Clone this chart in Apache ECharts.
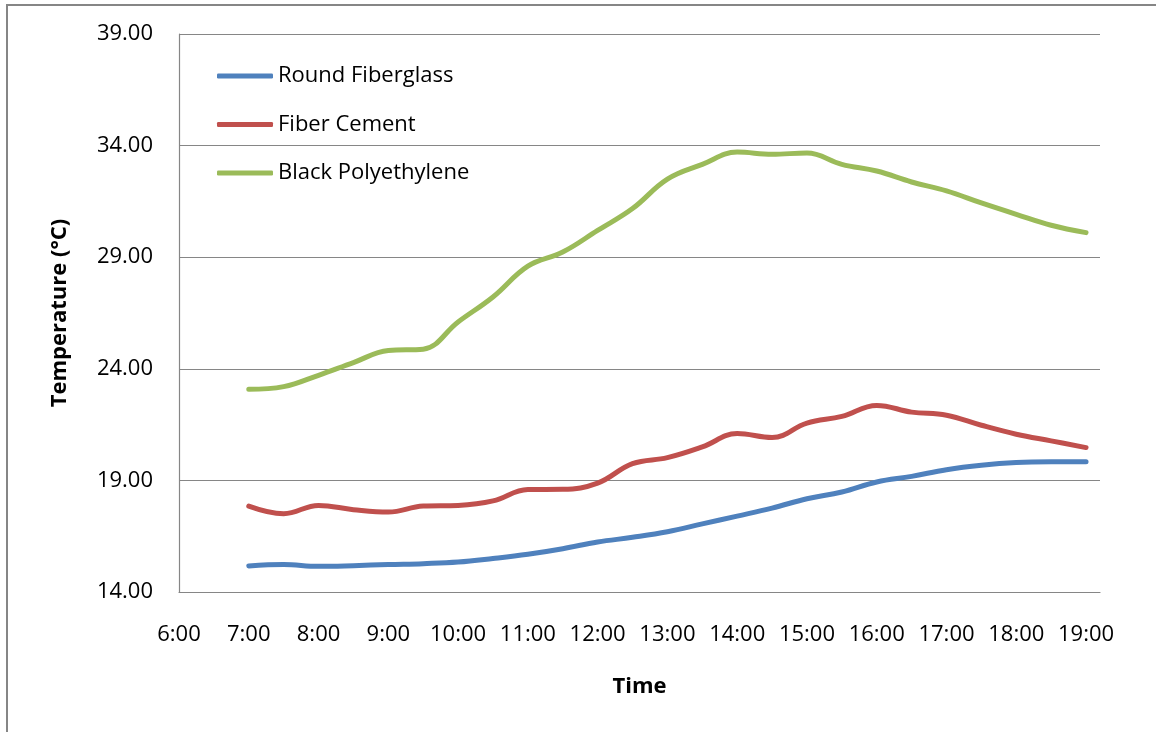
<!DOCTYPE html>
<html>
<head>
<meta charset="utf-8">
<script src="https://cdn.jsdelivr.net/npm/echarts@6/dist/echarts.min.js"></script>
<style>
  html, body { margin: 0; padding: 0; background: #fff; }
  #chart { width: 1156px; height: 732px; }
</style>
</head>
<body>
<div id="chart"></div>
<script>
const times = ['7:00','7:30','8:00','8:30','9:00','9:30','10:00','10:30','11:00','11:30','12:00','12:30',
  '13:00','13:30','14:00','14:30','15:00','15:30','16:00','16:30','17:00','17:30','18:00','18:30','19:00'];
const roundFiberglass = [15.17, 15.23, 15.15, 15.18, 15.23, 15.27, 15.34, 15.50, 15.69, 15.94, 16.24, 16.45,
  16.70, 17.05, 17.40, 17.76, 18.18, 18.48, 18.93, 19.18, 19.48, 19.68, 19.80, 19.83, 19.83];
const fiberCement = [17.85, 17.51, 17.88, 17.69, 17.58, 17.85, 17.88, 18.08, 18.59, 18.60, 18.88, 19.75,
  20.02, 20.50, 21.10, 20.92, 21.57, 21.87, 22.36, 22.06, 21.92, 21.47, 21.07, 20.77, 20.47];
const blackPolyethylene = [23.08, 23.20, 23.71, 24.28, 24.82, 24.88, 26.10, 27.22, 28.60, 29.23, 30.20, 31.18,
  32.50, 33.16, 33.71, 33.61, 33.67, 33.16, 32.86, 32.37, 31.97, 31.43, 30.92, 30.43, 30.10];
const seriesNames = ['Round Fiberglass', 'Fiber Cement', 'Black Polyethylene'];
const xTickLabels = ['6:00','7:00','8:00','9:00','10:00','11:00','12:00','13:00','14:00','15:00','16:00','17:00','18:00','19:00'];
const yTicks = [14, 19, 24, 29, 34, 39];

function toHours(t) { const p = t.split(':'); return +p[0] + (+p[1]) / 60; }
function pairs(vals) { return vals.map((v, i) => [toHours(times[i]), v]); }

const FONT = '"Open Sans", "Noto Sans", sans-serif';
const GRID_COLOR = '#868686';
const colors = ['#4F81BD', '#C0504D', '#9BBB59'];

const chart = echarts.init(document.getElementById('chart'), null, { renderer: 'canvas' });
const allSeries = [roundFiberglass, fiberCement, blackPolyethylene].map((vals, i) => ({
  name: seriesNames[i],
  type: 'line',
  data: pairs(vals),
  smooth: 0.4,
  symbol: 'none',
  lineStyle: { width: 5, color: colors[i], cap: 'round', join: 'round' },
  itemStyle: { color: colors[i] },
  emphasis: { disabled: true },
  animation: false
}));

chart.setOption({
  backgroundColor: '#fff',
  animation: false,
  textStyle: { fontFamily: FONT },
  graphic: [{
    type: 'rect',
    shape: { x: 7, y: 5, width: 1300, height: 900 },
    style: { fill: 'none', stroke: GRID_COLOR, lineWidth: 2 },
    silent: true
  }],
  grid: { left: 179, right: 56, top: 34, bottom: 140, containLabel: false },
  legend: {
    orient: 'vertical',
    left: 217,
    top: 65,
    padding: 0,
    icon: 'roundRect',
    itemWidth: 56,
    itemHeight: 5,
    itemGap: 26.5,
    data: seriesNames,
    textStyle: { fontFamily: FONT, fontSize: 22, color: '#000', lineHeight: 22 }
  },
  xAxis: {
    type: 'value',
    min: toHours(xTickLabels[0]),
    max: 19.2,
    interval: 1,
    name: 'Time',
    nameLocation: 'middle',
    nameGap: 84,
    nameTextStyle: { fontFamily: FONT, fontSize: 22, fontWeight: 'bold', color: '#000' },
    axisLine: { show: true, lineStyle: { color: GRID_COLOR, width: 1.2 } },
    axisTick: { show: false },
    splitLine: { show: false },
    axisLabel: {
      fontFamily: FONT, fontSize: 22, color: '#000', margin: 32,
      showMaxLabel: true,
      formatter: function (v) {
        const lbl = v + ':00';
        return Number.isInteger(v) && xTickLabels.indexOf(lbl) >= 0 ? lbl : '';
      }
    }
  },
  yAxis: {
    type: 'value',
    min: yTicks[0],
    max: yTicks[yTicks.length - 1],
    interval: yTicks[1] - yTicks[0],
    name: 'Temperature (°C)',
    nameLocation: 'middle',
    nameGap: 108,
    nameTextStyle: { fontFamily: FONT, fontSize: 22, fontWeight: 'bold', color: '#000' },
    axisLine: { show: true, lineStyle: { color: GRID_COLOR, width: 1.2 } },
    axisTick: { show: false },
    splitLine: { show: true, lineStyle: { color: GRID_COLOR, width: 1.2 } },
    axisLabel: {
      fontFamily: FONT, fontSize: 22, color: '#000', margin: 26,
      formatter: v => v.toFixed(2)
    }
  },
  series: allSeries
});
</script>
</body>
</html>
